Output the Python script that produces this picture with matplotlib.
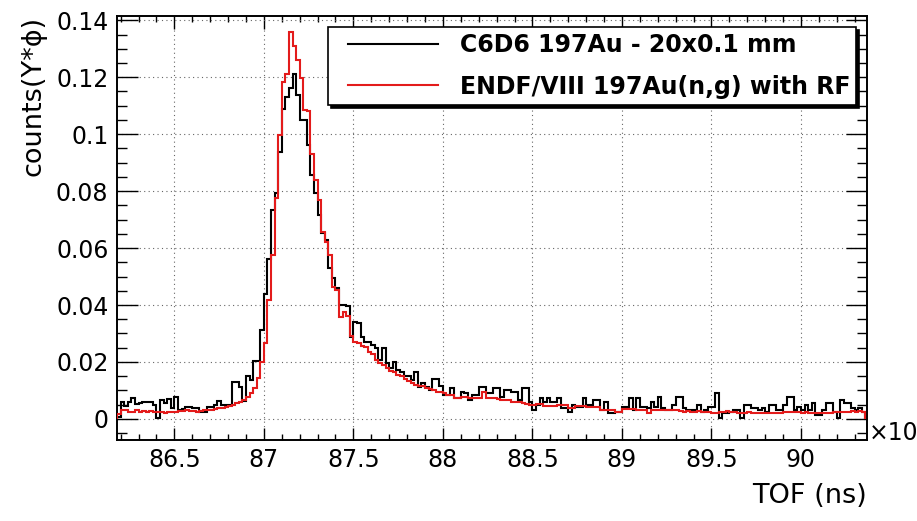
import numpy as np
import matplotlib
matplotlib.use("Agg")
import matplotlib.pyplot as plt
from matplotlib.ticker import MultipleLocator, FuncFormatter
from matplotlib.lines import Line2D
from matplotlib.legend_handler import HandlerLine2D

# TOF binning shared by both histograms (ns)
tof_low_ns = 86180
bin_width_ns = 20

# C6D6 measurement, 197Au sample 20x0.1 mm (counts Y*phi per bin)
c6d6_au = [
    0.0008, 0.0061, 0.0046, 0.0060, 0.0073, 0.0053, 0.0055, 0.0061, 0.0061, 0.0058,
    0.0050, 0.0002, 0.0067, 0.0055, 0.0069, 0.0037, 0.0078, 0.0032, 0.0034, 0.0043,
    0.0043, 0.0037, 0.0037, 0.0026, 0.0026, 0.0041, 0.0041, 0.0049, 0.0064, 0.0049,
    0.0049, 0.0049, 0.0131, 0.0131, 0.0112, 0.0063, 0.0152, 0.0138, 0.0204, 0.0204,
    0.0312, 0.0439, 0.0560, 0.0734, 0.0792, 0.0938, 0.1090, 0.1131, 0.1161, 0.1213,
    0.1137, 0.1050, 0.1050, 0.0962, 0.0856, 0.0792, 0.0716, 0.0652, 0.0628, 0.0529,
    0.0494, 0.0458, 0.0399, 0.0400, 0.0395, 0.0289, 0.0342, 0.0336, 0.0289, 0.0271,
    0.0271, 0.0260, 0.0248, 0.0207, 0.0248, 0.0195, 0.0178, 0.0201, 0.0172, 0.0166,
    0.0149, 0.0149, 0.0137, 0.0166, 0.0113, 0.0125, 0.0113, 0.0102, 0.0139, 0.0139,
    0.0116, 0.0084, 0.0084, 0.0108, 0.0073, 0.0073, 0.0096, 0.0090, 0.0067, 0.0084,
    0.0084, 0.0113, 0.0113, 0.0090, 0.0090, 0.0108, 0.0108, 0.0078, 0.0102, 0.0102,
    0.0096, 0.0096, 0.0067, 0.0108, 0.0108, 0.0061, 0.0032, 0.0049, 0.0073, 0.0061,
    0.0073, 0.0061, 0.0061, 0.0073, 0.0037, 0.0037, 0.0026, 0.0049, 0.0043, 0.0043,
    0.0073, 0.0049, 0.0049, 0.0067, 0.0067, 0.0032, 0.0061, 0.0020, 0.0020, 0.0026,
    0.0026, 0.0043, 0.0043, 0.0073, 0.0032, 0.0073, 0.0043, 0.0043, 0.0037, 0.0061,
    0.0043, 0.0078, 0.0037, 0.0032, 0.0032, 0.0049, 0.0078, 0.0078, 0.0037, 0.0032,
    0.0032, 0.0032, 0.0049, 0.0026, 0.0032, 0.0043, 0.0043, 0.0090, 0.0002, 0.0020,
    0.0020, 0.0026, 0.0032, 0.0032, 0.0002, 0.0049, 0.0049, 0.0037, 0.0037, 0.0032,
    0.0037, 0.0026, 0.0049, 0.0049, 0.0032, 0.0032, 0.0049, 0.0078, 0.0078, 0.0032,
    0.0043, 0.0032, 0.0049, 0.0032, 0.0055, 0.0014, 0.0014, 0.0032, 0.0055, 0.0055,
    0.0026, 0.0002, 0.0067, 0.0055, 0.0055, 0.0037, 0.0032, 0.0037, 0.0026,
]

# ENDF/B-VIII 197Au(n,g) folded with the resolution function
endf_au = [
    0.0018, 0.0030, 0.0030, 0.0026, 0.0026, 0.0030, 0.0026, 0.0028, 0.0026, 0.0028,
    0.0026, 0.0026, 0.0026, 0.0022, 0.0026, 0.0024, 0.0026, 0.0028, 0.0028, 0.0030,
    0.0028, 0.0028, 0.0026, 0.0028, 0.0030, 0.0032, 0.0032, 0.0035, 0.0037, 0.0040,
    0.0042, 0.0046, 0.0050, 0.0055, 0.0061, 0.0067, 0.0078, 0.0090, 0.0107, 0.0143,
    0.0199, 0.0266, 0.0418, 0.0576, 0.0775, 0.0997, 0.1184, 0.1210, 0.1360, 0.1310,
    0.1260, 0.1196, 0.1085, 0.1080, 0.0932, 0.0839, 0.0769, 0.0658, 0.0620, 0.0576,
    0.0462, 0.0453, 0.0359, 0.0377, 0.0361, 0.0290, 0.0271, 0.0266, 0.0256, 0.0252,
    0.0236, 0.0228, 0.0207, 0.0195, 0.0188, 0.0178, 0.0168, 0.0164, 0.0154, 0.0149,
    0.0140, 0.0134, 0.0126, 0.0119, 0.0115, 0.0115, 0.0110, 0.0104, 0.0100, 0.0096,
    0.0096, 0.0090, 0.0084, 0.0084, 0.0073, 0.0075, 0.0078, 0.0078, 0.0073, 0.0073,
    0.0073, 0.0073, 0.0096, 0.0073, 0.0073, 0.0073, 0.0070, 0.0067, 0.0067, 0.0067,
    0.0060, 0.0058, 0.0058, 0.0056, 0.0053, 0.0049, 0.0049, 0.0053, 0.0053, 0.0046,
    0.0046, 0.0046, 0.0046, 0.0049, 0.0049, 0.0049, 0.0037, 0.0040, 0.0046, 0.0046,
    0.0046, 0.0041, 0.0041, 0.0041, 0.0041, 0.0032, 0.0032, 0.0032, 0.0032, 0.0026,
    0.0026, 0.0034, 0.0034, 0.0034, 0.0034, 0.0032, 0.0032, 0.0032, 0.0022, 0.0030,
    0.0032, 0.0032, 0.0030, 0.0032, 0.0030, 0.0032, 0.0030, 0.0028, 0.0026, 0.0028,
    0.0026, 0.0026, 0.0028, 0.0026, 0.0024, 0.0026, 0.0022, 0.0020, 0.0024, 0.0026,
    0.0028, 0.0026, 0.0024, 0.0022, 0.0020, 0.0022, 0.0024, 0.0022, 0.0020, 0.0022,
    0.0020, 0.0022, 0.0020, 0.0022, 0.0020, 0.0022, 0.0024, 0.0026, 0.0024, 0.0026,
    0.0024, 0.0022, 0.0024, 0.0022, 0.0020, 0.0022, 0.0020, 0.0022, 0.0020, 0.0022,
    0.0024, 0.0026, 0.0024, 0.0026, 0.0026, 0.0028, 0.0026, 0.0028, 0.0026,
]

label_c6d6 = "C6D6 197Au - 20x0.1 mm"
label_endf = "ENDF/VIII 197Au(n,g) with RF"

red = "#e31b1b"

# bin edges, axis shown in units of 10^3 ns
edges = (tof_low_ns + bin_width_ns * np.arange(len(c6d6_au) + 1)) / 1e3

plt.rcParams["font.family"] = "DejaVu Sans"

fig = plt.figure(figsize=(9.17, 5.21), dpi=100)
ax = fig.add_axes([0.1273, 0.1555, 0.8178, 0.8138])

ax.stairs(c6d6_au, edges, baseline=0, color="black", linewidth=1.5, zorder=3)
ax.stairs(endf_au, edges, baseline=0, color=red, linewidth=1.5, zorder=4)

ax.set_xlim(86.178, 90.367)
ax.set_ylim(-0.0074, 0.1415)

ax.xaxis.set_major_locator(MultipleLocator(0.5))
ax.xaxis.set_minor_locator(MultipleLocator(0.1))
ax.yaxis.set_major_locator(MultipleLocator(0.02))
ax.yaxis.set_minor_locator(MultipleLocator(0.005))
root_fmt = FuncFormatter(lambda v, pos: f"{round(v, 6) + 0.0:g}")
ax.xaxis.set_major_formatter(root_fmt)
ax.yaxis.set_major_formatter(root_fmt)

ax.tick_params(axis="both", which="both", direction="in", top=True, right=True,
               width=1.0, labelsize=17)
ax.tick_params(axis="x", which="major", length=9, pad=6)
ax.tick_params(axis="x", which="minor", length=4.5)
ax.tick_params(axis="y", which="major", length=15, pad=6)
ax.tick_params(axis="y", which="minor", length=7.5)

for sp in ax.spines.values():
    sp.set_linewidth(1.4)

ax.grid(True, which="major", color="#666666", linestyle=(0, (1, 3)), linewidth=0.8)
ax.set_axisbelow(True)

ax.set_xlabel("TOF (ns)", loc="right", fontsize=19.5, labelpad=8)
ax.set_ylabel("counts(Y*ϕ)", loc="top", fontsize=19.5, labelpad=7)

# exponent of the x axis, drawn at the right end of the axis like ROOT does
fig.text(0.9477, 0.1555, "×10³", fontsize=17, ha="left", va="baseline")

# legend lines are inset from the box edge, as in ROOT's TLegend
handles = [Line2D([], [], color="black", linewidth=1.5),
           Line2D([], [], color=red, linewidth=1.5)]
leg = ax.legend(handles, [label_c6d6, label_endf], loc="upper left",
                bbox_to_anchor=(0.2817, 0.794, 0.704, 0.18), mode="expand",
                borderaxespad=0, fancybox=False, edgecolor="black", framealpha=1,
                shadow={"color": "black", "alpha": 1},
                prop={"weight": "bold", "size": 17},
                handler_map={Line2D: HandlerLine2D(xpad=0.6)},
                handlelength=4.4, handletextpad=0.95, labelspacing=0.74, borderpad=0.26)
leg.get_frame().set_linewidth(1.2)
leg.set_zorder(10)

fig.savefig("out.png", dpi=100)
